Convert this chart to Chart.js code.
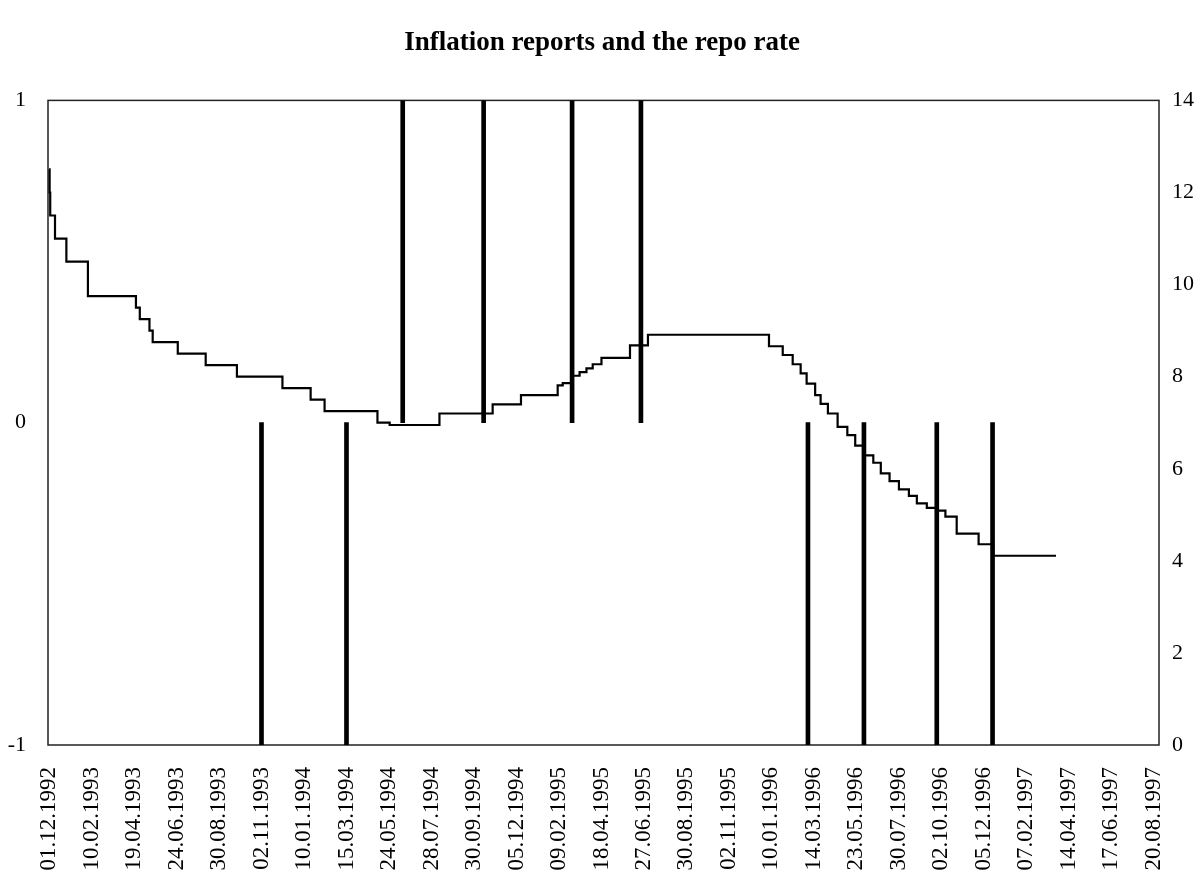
<!DOCTYPE html>
<html>
<head>
<meta charset="utf-8">
<script src="https://cdn.jsdelivr.net/npm/chart.js@4"></script>
<style>
  body { margin: 0; background: #fff; }
</style>
</head>
<body>
<canvas id="repoChart" width="1204" height="873"></canvas>
<script>
// x axis labels (every 47th business day in the original)
const tickDates = ['01.12.1992', '10.02.1993', '19.04.1993', '24.06.1993', '30.08.1993', '02.11.1993',
  '10.01.1994', '15.03.1994', '24.05.1994', '28.07.1994', '30.09.1994', '05.12.1994', '09.02.1995',
  '18.04.1995', '27.06.1995', '30.08.1995', '02.11.1995', '10.01.1996', '14.03.1996', '23.05.1996',
  '30.07.1996', '02.10.1996', '05.12.1996', '07.02.1997', '14.04.1997', '17.06.1997', '20.08.1997'];

// repo rate, date of each change and the new level (%)
const repoDates = ['01.12.1992', '02.12.1992', '03.12.1992', '11.12.1992', '30.12.1992', '04.02.1993',
  '22.04.1993', '28.04.1993', '13.05.1993', '18.05.1993', '26.06.1993', '09.08.1993', '26.09.1993',
  '06.12.1993', '20.01.1994', '10.02.1994', '05.05.1994', '25.05.1994', '09.08.1994', '29.10.1994',
  '12.12.1994', '07.02.1995', '15.02.1995', '02.03.1995', '14.03.1995', '25.03.1995', '04.04.1995',
  '18.04.1995', '04.06.1995', '03.07.1995', '06.01.1996', '27.01.1996', '11.02.1996', '23.02.1996',
  '03.03.1996', '16.03.1996', '25.03.1996', '06.04.1996', '22.04.1996', '08.05.1996', '21.05.1996',
  '05.06.1996', '19.06.1996', '01.07.1996', '15.07.1996', '30.07.1996', '14.08.1996', '26.08.1996',
  '10.09.1996', '25.09.1996', '08.10.1996', '25.10.1996', '27.11.1996', '19.12.1996', '25.03.1997'];
const repoRates = [12.5, 12.0, 11.5, 11.0, 10.5, 9.75,
  9.5, 9.25, 9.0, 8.75, 8.5, 8.25, 8.0,
  7.75, 7.5, 7.25, 7.0, 6.95, 7.2, 7.4,
  7.6, 7.81, 7.86, 8.02, 8.1, 8.18, 8.27,
  8.41, 8.68, 8.91, 8.66, 8.47, 8.27, 8.07,
  7.85, 7.6, 7.41, 7.2, 6.91, 6.73, 6.5,
  6.29, 6.13, 5.9, 5.73, 5.55, 5.41, 5.25,
  5.15, 5.09, 4.96, 4.59, 4.36, 4.11, 4.11];

// inflation reports: +1 / -1
const reportDates = ['02.11.1993', '15.03.1994', '14.06.1994', '15.10.1994', '02.03.1995',
  '22.06.1995', '05.03.1996', '04.06.1996', '25.09.1996', '18.12.1996'];
const reportSigns = [-1, -1, 1, 1, 1, 1, -1, -1, -1, -1];

function dayNum(s) {
  const p = s.split('.');
  return Date.UTC(+p[2], +p[1] - 1, +p[0]) / 86400000;
}
const tickDays = tickDates.map(dayNum);

// labels are evenly spaced, so place a date between its two neighbouring labels
function toPos(s) {
  const d = dayNum(s);
  let k = 0;
  while (k < tickDays.length - 2 && d > tickDays[k + 1]) k++;
  return k + (d - tickDays[k]) / (tickDays[k + 1] - tickDays[k]);
}

const serif = 'Liberation Serif, Times New Roman, serif';

const frame = {
  id: 'frame',
  beforeDatasetsDraw(chart) {
    const a = chart.chartArea, c = chart.ctx;
    c.save();
    c.strokeStyle = '#222';
    c.lineWidth = 1.5;
    c.strokeRect(a.left, a.top, a.right - a.left, a.bottom - a.top);
    c.restore();
  }
};

const ctx = document.getElementById('repoChart');

new Chart(ctx, {
  data: {
    datasets: [{
      type: 'line',
      label: 'Repo rate',
      data: repoDates.map((d, i) => ({ x: toPos(d), y: repoRates[i] })),
      yAxisID: 'yRight',
      borderColor: '#000',
      borderWidth: 2.2,
      pointRadius: 0,
      stepped: 'before'
    }, {
      type: 'bar',
      label: 'Inflation reports',
      data: reportDates.map((d, i) => ({ x: toPos(d), y: reportSigns[i] })),
      yAxisID: 'yLeft',
      backgroundColor: '#000',
      barThickness: 4
    }]
  },
  options: {
    responsive: false,
    animation: false,
    layout: { padding: 0 },
    plugins: {
      legend: { display: false },
      tooltip: { enabled: false },
      title: {
        display: true,
        text: 'Inflation reports and the repo rate',
        color: '#000',
        font: { family: serif, size: 27, weight: 'bold' },
        padding: { top: 27, bottom: 41 }
      }
    },
    scales: {
      x: {
        type: 'linear',
        offset: false,
        min: -0.024,
        max: 26.12,
        grid: { display: false, drawTicks: false },
        border: { display: false },
        afterBuildTicks: (s) => { s.ticks = tickDates.map((_, i) => ({ value: i })); },
        afterFit: (s) => { s.height = 128; },
        ticks: {
          autoSkip: false,
          minRotation: 90,
          maxRotation: 90,
          padding: 22,
          color: '#000',
          font: { family: serif, size: 23 },
          callback: (v, i) => tickDates[i]
        }
      },
      yLeft: {
        position: 'left',
        min: -1,
        max: 1,
        grid: { display: false, drawTicks: false },
        border: { display: false },
        afterFit: (s) => { s.width = 48; },
        ticks: { stepSize: 1, padding: 22, color: '#000', font: { family: serif, size: 22 } }
      },
      yRight: {
        position: 'right',
        min: 0,
        max: 14,
        grid: { display: false, drawTicks: false },
        border: { display: false },
        afterFit: (s) => { s.width = 45; },
        ticks: { stepSize: 2, padding: 13, color: '#000', font: { family: serif, size: 22 } }
      }
    }
  },
  plugins: [frame]
});
</script>
</body>
</html>
